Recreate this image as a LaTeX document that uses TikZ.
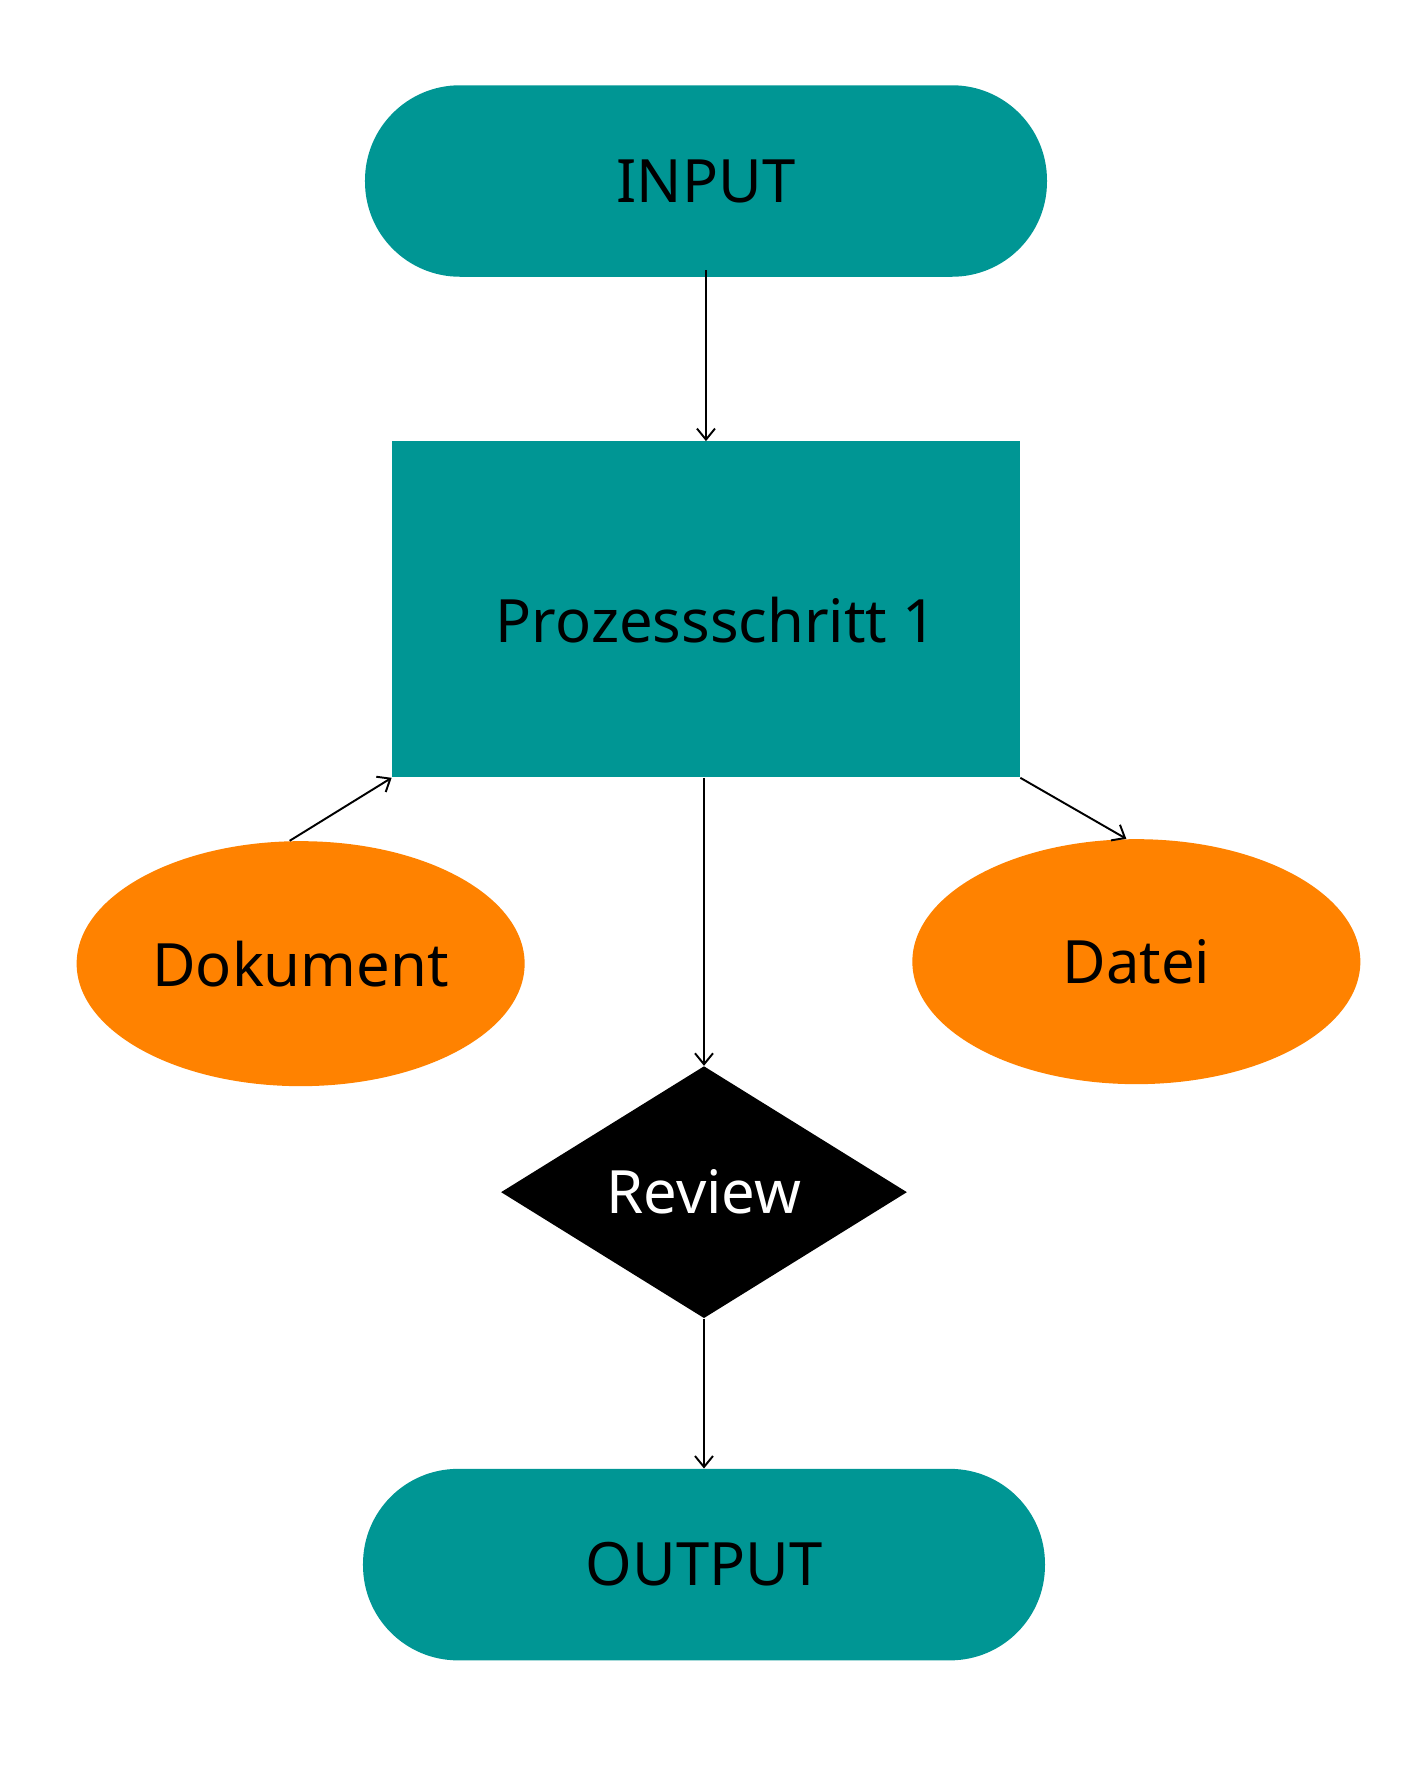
\documentclass[tikz,border=0pt]{standalone}
\usepackage{fontspec}
\setmainfont{Noto Sans}
\usetikzlibrary{positioning,shapes.geometric,arrows.meta}

\definecolor{petrol}{RGB}{0,150,148}
\definecolor{orangefill}{RGB}{255,130,0}

\tikzset{
  terminal/.style={rectangle, fill=petrol, rounded corners=1.9cm, minimum width=13.64cm, minimum height=3.83cm},
  prozess/.style={rectangle, fill=petrol, minimum width=12.56cm, minimum height=6.72cm, text height=1.6cm, text depth=0.26cm},
  datenobj/.style={ellipse, fill=orangefill, minimum width=8.96cm, minimum height=4.9cm},
  entscheidung/.style={diamond, aspect=1.6, inner sep=0pt, fill=black, text=white, minimum width=8.12cm, minimum height=5.04cm},
  pfeil/.style={-{Straight Barb[length=2.2mm,width=3.6mm]}, line width=1.1pt}
}

\begin{document}
\begin{tikzpicture}[font=\fontsize{34}{40}\selectfont]
\useasboundingbox (-14.12,3.62) rectangle (13.94,-31.70);
\node[terminal] (input) at (0,0) {INPUT};
\node[prozess, below=3.28cm of input] (proz1) {\hspace*{0.42cm}Prozessschritt 1};
\node[entscheidung, below=5.76cm of proz1.south, xshift=-0.04cm] (review) {Review};
\node[terminal, below=3.0cm of review] (output) {OUTPUT};
\node[datenobj, below=1.26cm of proz1.south west, xshift=-1.82cm] (dok) {Dokument};
\node[datenobj, below=1.22cm of proz1.south east, xshift=2.32cm] (datei) {Datei};
\draw[pfeil] ([yshift=0.14cm]input.south) -- (proz1.north);
\draw[pfeil] (review.north |- proz1.south) -- (review.north);
\draw[pfeil] (review.south) -- (output.north);
\draw[pfeil] ([xshift=-0.22cm]dok.north) -- (proz1.south west);
\draw[pfeil] (proz1.south east) -- ([xshift=-0.2cm]datei.north);
\end{tikzpicture}
\end{document}
